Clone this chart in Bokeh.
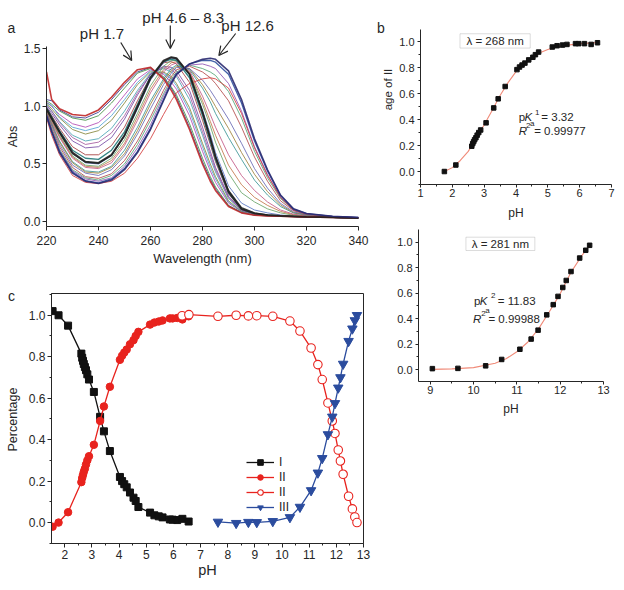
from bokeh.plotting import figure
from bokeh.layouts import row, column
from bokeh.models import (Range1d, Label, Arrow, OpenHead, Legend, LegendItem,
                          FixedTicker, PrintfTickFormatter, BoxAnnotation)
from bokeh.embed import file_html
from bokeh.resources import INLINE

FONT = "Liberation Sans"
INK = "#262626"

# ---------------- panel a : UV spectra ----------------
WAVELENGTH = [220, 222, 225, 230, 235, 240, 245, 250, 255, 260, 265, 268, 270,
              275, 280, 283, 285, 290, 295, 300, 305, 310, 315, 320, 330, 340]
ABS_PH_1_7 = [1.30, 1.06, 0.98, 0.93, 0.92, 0.97, 1.08, 1.21, 1.32, 1.34, 1.24, 1.14, 1.06, 0.80, 0.50, 0.35, 0.27, 0.13, 0.075, 0.055, 0.048, 0.045, 0.042, 0.04, 0.035, 0.03]
ABS_PH_1_9 = [1.06, 1.05, 0.97, 0.91, 0.90, 0.95, 1.06, 1.19, 1.30, 1.34, 1.25, 1.16, 1.08, 0.82, 0.52, 0.37, 0.285, 0.137, 0.077, 0.056, 0.048, 0.045, 0.042, 0.04, 0.035, 0.03]
ABS_PH_2_1 = [1.05, 1.02, 0.96, 0.90, 0.88, 0.92, 1.03, 1.16, 1.29, 1.33, 1.26, 1.17, 1.10, 0.85, 0.55, 0.39, 0.30, 0.14, 0.08, 0.056, 0.049, 0.045, 0.042, 0.04, 0.035, 0.03]
ABS_PH_2_6 = [1.04, 1.00, 0.93, 0.85, 0.82, 0.86, 0.96, 1.10, 1.24, 1.32, 1.28, 1.21, 1.15, 0.92, 0.61, 0.44, 0.34, 0.16, 0.084, 0.059, 0.05, 0.046, 0.042, 0.04, 0.035, 0.03]
ABS_PH_2_8 = [1.03, 1.01, 0.91, 0.82, 0.79, 0.82, 0.92, 1.06, 1.21, 1.31, 1.29, 1.24, 1.18, 0.96, 0.65, 0.47, 0.37, 0.17, 0.087, 0.06, 0.05, 0.046, 0.043, 0.04, 0.035, 0.03]
ABS_PH_2_9 = [1.03, 0.98, 0.90, 0.80, 0.76, 0.79, 0.88, 1.03, 1.19, 1.30, 1.30, 1.26, 1.20, 0.99, 0.68, 0.50, 0.39, 0.18, 0.089, 0.061, 0.051, 0.046, 0.043, 0.04, 0.035, 0.03]
ABS_PH_3_4 = [1.02, 0.96, 0.87, 0.75, 0.70, 0.72, 0.81, 0.96, 1.14, 1.29, 1.33, 1.30, 1.26, 1.06, 0.75, 0.55, 0.43, 0.20, 0.094, 0.063, 0.052, 0.047, 0.043, 0.04, 0.035, 0.03]
ABS_PH_3_6 = [1.01, 0.96, 0.86, 0.73, 0.67, 0.69, 0.77, 0.92, 1.12, 1.28, 1.34, 1.32, 1.28, 1.10, 0.78, 0.58, 0.45, 0.21, 0.097, 0.064, 0.052, 0.047, 0.043, 0.04, 0.035, 0.03]
ABS_PH_3_7 = [1.00, 0.94, 0.84, 0.70, 0.64, 0.65, 0.73, 0.89, 1.10, 1.28, 1.35, 1.34, 1.31, 1.14, 0.82, 0.61, 0.47, 0.22, 0.10, 0.066, 0.053, 0.047, 0.043, 0.04, 0.035, 0.03]
ABS_PH_4_3 = [0.99, 0.92, 0.81, 0.65, 0.58, 0.58, 0.66, 0.82, 1.05, 1.26, 1.38, 1.39, 1.37, 1.21, 0.88, 0.67, 0.52, 0.24, 0.105, 0.068, 0.054, 0.048, 0.044, 0.04, 0.035, 0.03]
ABS_PH_4_6 = [0.99, 0.91, 0.79, 0.62, 0.55, 0.54, 0.62, 0.78, 1.02, 1.26, 1.39, 1.41, 1.40, 1.25, 0.92, 0.69, 0.54, 0.25, 0.108, 0.069, 0.055, 0.048, 0.044, 0.04, 0.035, 0.03]
ABS_PH_6_0 = [0.98, 0.90, 0.78, 0.60, 0.52, 0.51, 0.58, 0.75, 1.00, 1.25, 1.40, 1.43, 1.42, 1.28, 0.95, 0.72, 0.56, 0.26, 0.11, 0.07, 0.055, 0.048, 0.044, 0.04, 0.035, 0.03]
ABS_PH_8_3 = [0.97, 0.89, 0.77, 0.59, 0.515, 0.505, 0.575, 0.745, 0.99, 1.24, 1.39, 1.425, 1.415, 1.28, 0.955, 0.73, 0.57, 0.27, 0.12, 0.075, 0.058, 0.05, 0.045, 0.041, 0.036, 0.031]
ABS_PH_10_3 = [0.98, 0.89, 0.77, 0.59, 0.51, 0.50, 0.57, 0.74, 0.98, 1.23, 1.38, 1.42, 1.41, 1.28, 0.97, 0.76, 0.60, 0.31, 0.16, 0.10, 0.075, 0.057, 0.047, 0.042, 0.036, 0.03]
ABS_PH_11_1 = [0.97, 0.88, 0.75, 0.57, 0.49, 0.48, 0.55, 0.71, 0.94, 1.18, 1.35, 1.40, 1.40, 1.29, 1.02, 0.83, 0.69, 0.42, 0.25, 0.17, 0.11, 0.075, 0.054, 0.045, 0.037, 0.031]
ABS_PH_11_3 = [0.97, 0.87, 0.74, 0.56, 0.48, 0.47, 0.53, 0.68, 0.91, 1.15, 1.32, 1.38, 1.39, 1.30, 1.05, 0.87, 0.75, 0.49, 0.32, 0.21, 0.14, 0.088, 0.059, 0.047, 0.037, 0.031]
ABS_PH_11_5 = [0.96, 0.86, 0.73, 0.55, 0.47, 0.46, 0.51, 0.66, 0.88, 1.12, 1.30, 1.36, 1.38, 1.31, 1.09, 0.93, 0.82, 0.58, 0.40, 0.27, 0.17, 0.10, 0.064, 0.049, 0.038, 0.032]
ABS_PH_11_8 = [0.95, 0.85, 0.70, 0.52, 0.44, 0.43, 0.48, 0.62, 0.82, 1.05, 1.24, 1.33, 1.36, 1.32, 1.16, 1.04, 0.94, 0.73, 0.54, 0.36, 0.23, 0.13, 0.074, 0.054, 0.04, 0.032]
ABS_PH_11_9 = [0.95, 0.84, 0.69, 0.51, 0.43, 0.42, 0.47, 0.59, 0.79, 1.02, 1.22, 1.31, 1.35, 1.33, 1.19, 1.08, 1.00, 0.81, 0.60, 0.41, 0.26, 0.143, 0.078, 0.056, 0.04, 0.033]
ABS_PH_12_0 = [0.94, 0.83, 0.67, 0.49, 0.42, 0.40, 0.45, 0.57, 0.76, 0.98, 1.19, 1.29, 1.34, 1.33, 1.23, 1.14, 1.07, 0.89, 0.68, 0.46, 0.29, 0.157, 0.084, 0.058, 0.041, 0.033]
ABS_PH_12_2 = [0.94, 0.81, 0.65, 0.47, 0.39, 0.375, 0.415, 0.53, 0.70, 0.91, 1.14, 1.26, 1.32, 1.35, 1.30, 1.25, 1.20, 1.05, 0.82, 0.56, 0.35, 0.18, 0.094, 0.062, 0.043, 0.034]
ABS_PH_12_3 = [0.93, 0.80, 0.63, 0.45, 0.38, 0.36, 0.40, 0.50, 0.67, 0.88, 1.11, 1.24, 1.30, 1.36, 1.33, 1.30, 1.27, 1.13, 0.90, 0.61, 0.38, 0.20, 0.099, 0.065, 0.043, 0.034]
ABS_PH_12_4 = [0.93, 0.79, 0.62, 0.44, 0.37, 0.35, 0.38, 0.48, 0.64, 0.84, 1.09, 1.22, 1.29, 1.36, 1.37, 1.35, 1.33, 1.20, 0.96, 0.65, 0.41, 0.21, 0.10, 0.067, 0.044, 0.035]
ABS_PH_12_5 = [0.92, 0.78, 0.61, 0.43, 0.355, 0.335, 0.37, 0.46, 0.61, 0.81, 1.06, 1.21, 1.28, 1.37, 1.40, 1.40, 1.385, 1.28, 1.03, 0.70, 0.44, 0.225, 0.108, 0.069, 0.045, 0.035]
ABS_PH_12_6 = [0.92, 0.78, 0.60, 0.42, 0.35, 0.33, 0.36, 0.45, 0.60, 0.80, 1.05, 1.20, 1.28, 1.37, 1.41, 1.42, 1.41, 1.31, 1.06, 0.72, 0.45, 0.23, 0.11, 0.07, 0.045, 0.035]
ABS_PH_12_7 = [0.90, 0.75, 0.58, 0.40, 0.34, 0.33, 0.35, 0.42, 0.55, 0.72, 0.93, 1.05, 1.12, 1.20, 1.24, 1.25, 1.24, 1.16, 0.94, 0.64, 0.40, 0.21, 0.10, 0.065, 0.042, 0.033]

SPECTRA = [ABS_PH_1_9, ABS_PH_2_1, ABS_PH_2_6, ABS_PH_2_8, ABS_PH_2_9, ABS_PH_3_4,
           ABS_PH_3_6, ABS_PH_3_7, ABS_PH_4_3, ABS_PH_10_3, ABS_PH_11_1, ABS_PH_11_3,
           ABS_PH_11_5, ABS_PH_11_8, ABS_PH_11_9, ABS_PH_12_0, ABS_PH_12_2, ABS_PH_12_3,
           ABS_PH_12_4, ABS_PH_12_7, ABS_PH_4_6, ABS_PH_8_3, ABS_PH_12_5,
           ABS_PH_1_7, ABS_PH_6_0, ABS_PH_12_6]
SPEC_COLORS = ["#2c2c86", "#3a8a3a", "#b040b0", "#4a9fd0", "#808030", "#40a0b0",
               "#a0509a", "#7040a0", "#a03030", "#5070c0", "#60a060", "#c07040",
               "#c05080", "#309090", "#9a7a30", "#6060b0", "#b04040", "#4aa070",
               "#8a4ab0", "#d03030", "#207878", "#303030", "#3050a0",
               "#c02828", "#202020", "#2a2a70"]
SPEC_WIDTHS = [0.9] * 20 + [1.3, 1.3, 1.3, 1.6, 1.8, 1.6]

A_XTICKS = [220, 240, 260, 280, 300, 320, 340]
A_YTICKS = [0.0, 0.5, 1.0, 1.5]

# ---------------- panel b : fractions ----------------
B1_PH = [1.75, 2.11, 2.61, 2.64, 2.67, 2.70, 2.74, 2.78, 2.83, 2.89, 3.06, 3.30, 3.44, 3.66,
         4.03, 4.11, 4.19, 4.28, 4.40, 4.53, 4.61, 4.71, 5.14, 5.29, 5.46, 5.60, 5.87, 5.97,
         6.15, 6.36, 6.56]
B1_FRAC = [0.00, 0.05, 0.195, 0.215, 0.23, 0.245, 0.26, 0.28, 0.30, 0.32, 0.375, 0.49, 0.56,
           0.655, 0.785, 0.805, 0.82, 0.835, 0.86, 0.88, 0.90, 0.92, 0.959, 0.969, 0.974,
           0.979, 0.985, 0.985, 0.985, 0.979, 0.992]
B1_FIT_PH = [1.75, 2.0, 2.25, 2.5, 2.75, 3.0, 3.25, 3.5, 3.75, 4.0, 4.25, 4.5, 4.75, 5.0,
             5.25, 5.5, 6.0, 6.55]
B1_FIT = [0.0, 0.03, 0.085, 0.155, 0.255, 0.36, 0.47, 0.585, 0.685, 0.77, 0.835, 0.88,
          0.915, 0.94, 0.958, 0.97, 0.985, 0.993]

B2_PH = [9.05, 9.64, 10.28, 10.65, 11.07, 11.33, 11.49, 11.69, 11.84, 11.95, 12.06, 12.14,
         12.25, 12.45, 12.59, 12.68]
B2_FRAC = [0.008, 0.01, 0.03, 0.08, 0.16, 0.24, 0.31, 0.43, 0.51, 0.575, 0.645, 0.70,
           0.77, 0.876, 0.937, 0.976]
B2_FIT_PH = [9.05, 9.5, 10.0, 10.5, 10.75, 11.0, 11.25, 11.5, 11.75, 12.0, 12.25, 12.5, 12.7]
B2_FIT = [0.002, 0.006, 0.016, 0.05, 0.085, 0.14, 0.215, 0.32, 0.455, 0.595, 0.765, 0.895, 0.985]

B_YTICKS = [0.0, 0.2, 0.4, 0.6, 0.8, 1.0]
B1_XTICKS = [1, 2, 3, 4, 5, 6, 7]
B2_XTICKS = [9, 10, 11, 12, 13]

# ---------------- panel c : speciation ----------------
C_PH_LOW = [1.55, 1.77, 2.12, 2.61, 2.64, 2.67, 2.70, 2.74, 2.78, 2.83, 2.89, 3.07, 3.30,
            3.44, 3.66, 4.03, 4.11, 4.19, 4.28, 4.40, 4.53, 4.61, 4.71, 5.14, 5.30, 5.46,
            5.60, 5.87, 5.97, 6.14, 6.33, 6.56]
C_I = [1.02, 1.00, 0.95, 0.815, 0.795, 0.78, 0.765, 0.75, 0.735, 0.715, 0.69, 0.63, 0.51,
       0.44, 0.345, 0.22, 0.20, 0.185, 0.17, 0.145, 0.12, 0.104, 0.075, 0.048, 0.035, 0.03,
       0.025, 0.015, 0.014, 0.012, 0.018, 0.005]
C_II = [-0.02, 0.00, 0.05, 0.195, 0.215, 0.23, 0.245, 0.26, 0.28, 0.30, 0.32, 0.375, 0.49,
        0.56, 0.655, 0.785, 0.805, 0.82, 0.835, 0.86, 0.88, 0.90, 0.92, 0.955, 0.965, 0.97,
        0.975, 0.985, 0.985, 0.987, 0.98, 0.995]
C_PH_HIGH = [6.32, 6.57, 7.64, 8.31, 8.76, 9.07, 9.66, 10.29, 10.66, 11.07, 11.32, 11.48,
             11.69, 11.85, 11.95, 12.07, 12.15, 12.25, 12.45, 12.59, 12.68, 12.76]
C_II_HIGH = [0.998, 1.003, 0.995, 1.0, 0.997, 0.998, 0.995, 0.972, 0.924, 0.842, 0.762,
             0.69, 0.577, 0.49, 0.43, 0.35, 0.297, 0.233, 0.127, 0.066, 0.027, 0.0]
C_PH_III = [7.64, 8.31, 8.76, 9.07, 9.66, 10.29, 10.66, 11.07, 11.32, 11.48, 11.69, 11.85,
            11.95, 12.07, 12.15, 12.25, 12.45, 12.59, 12.68, 12.76]
C_III = [0.003, -0.003, 0.002, 0.001, 0.006, 0.025, 0.075, 0.155, 0.24, 0.31, 0.425, 0.51,
         0.575, 0.65, 0.70, 0.765, 0.875, 0.935, 0.975, 1.0]
C_XTICKS = [2, 3, 4, 5, 6, 7, 8, 9, 10, 11, 12, 13]
C_YTICKS = [0.0, 0.2, 0.4, 0.6, 0.8, 1.0]
C_LABELS = ["I", "II", "II", "III"]


# ---------------- helpers ----------------
def mk(width, height, xr, yr, ml, mr, mt, mb, outline=None):
    p = figure(width=width, height=height, x_range=Range1d(*xr), y_range=Range1d(*yr),
               output_backend="svg", toolbar_location=None, title=None,
               min_border_left=ml, min_border_right=mr, min_border_top=mt,
               min_border_bottom=mb, outline_line_color=outline,
               background_fill_color="white", border_fill_color="white")
    p.xgrid.visible = False
    p.ygrid.visible = False
    return p


def strip(width, height, xr, yr):
    p = figure(width=width, height=height, x_range=Range1d(*xr), y_range=Range1d(*yr),
               output_backend="svg", toolbar_location=None, title=None,
               x_axis_type=None, y_axis_type=None, min_border=0,
               min_border_left=0, min_border_right=0, min_border_top=0,
               min_border_bottom=0, outline_line_color=None,
               background_fill_color="white", border_fill_color="white")
    return p


def style(p, xt, yt, xm, ym, fs, xfmt, yfmt, xstand=4, ystand=3, tick=4):
    p.xaxis.ticker = FixedTicker(ticks=xt, minor_ticks=xm)
    p.yaxis.ticker = FixedTicker(ticks=yt, minor_ticks=ym)
    p.xaxis.formatter = PrintfTickFormatter(format=xfmt)
    p.yaxis.formatter = PrintfTickFormatter(format=yfmt)
    for ax in p.axis:
        ax.axis_line_color = INK
        ax.axis_line_width = 1
        ax.major_tick_line_color = INK
        ax.minor_tick_line_color = INK
        ax.major_tick_in = 0
        ax.major_tick_out = tick
        ax.minor_tick_in = 0
        ax.minor_tick_out = 2
        ax.major_label_text_font = FONT
        ax.major_label_text_font_size = fs
        ax.major_label_text_color = INK
        ax.axis_label_text_font = FONT
        ax.axis_label_text_font_style = "normal"
        ax.axis_label_text_color = INK
    p.xaxis.major_label_standoff = xstand
    p.yaxis.major_label_standoff = ystand


def mapper(left, top, fw, fh, xr, yr):
    def m(X, Y):
        x = xr[0] + (X - left) * (xr[1] - xr[0]) / fw
        y = yr[1] - (Y - top) * (yr[1] - yr[0]) / fh
        return x, y
    return m


def ident(X, Y):
    return X, Y


def lab(p, m, X, Y, text, size, align="center", baseline="middle", angle=0,
        fstyle="normal"):
    x, y = m(X, Y)
    p.add_layout(Label(x=x, y=y, text=text, text_font=FONT, text_font_size=f"{size}px",
                       text_align=align, text_baseline=baseline, angle=angle,
                       angle_units="deg", text_font_style=fstyle, text_color=INK))


def arrow(p, m, X0, Y0, X1, Y1):
    x0, y0 = m(X0, Y0)
    x1, y1 = m(X1, Y1)
    p.add_layout(Arrow(end=OpenHead(size=9, line_width=1.2, line_color=INK),
                       x_start=x0, y_start=y0, x_end=x1, y_end=y1,
                       line_width=1.2, line_color=INK))


def boxed(p, m, X0, Y0, X1, Y1):
    l, t = m(X0, Y0)
    r, b = m(X1, Y1)
    p.add_layout(BoxAnnotation(left=l, right=r, top=t, bottom=b, fill_color="white",
                               fill_alpha=1.0, line_color="#8a8a8a", line_width=1))


# Page layout (no body margin), every plot nested so frames are not aligned:
#   [stripA 0-20 | panel a 20-370]        [stripB1 375-396 | panel b1 396-624]
#   [stripC 0-25 | panel c 25-375]        [stripB2 375-394 | panel b2 394-616]

# ---------------- panel a ----------------
A_XR = (220, 340)
A_YR = (-0.0435, 1.852)
pa = mk(350, 270, A_XR, A_YR, 23, 12, 8, 44)
style(pa, A_XTICKS, A_YTICKS, [], [], "12px", "%d", "%.1f", xstand=5, ystand=2)
pa.yaxis.bounds = (-0.0435, 1.52)
pa.xaxis.axis_label = "Wavelength (nm)"
pa.xaxis.axis_label_text_font_size = "13px"
pa.xaxis.axis_label_standoff = 3
for spec, col, w in zip(SPECTRA, SPEC_COLORS, SPEC_WIDTHS):
    pa.line(WAVELENGTH, spec, line_color=col, line_width=w, line_alpha=0.9)
ma = mapper(43, 8, 315, 218, A_XR, A_YR)
lab(pa, ma, 99, 33, "pH 1.7", 15)
lab(pa, ma, 181, 17, "pH 4.6 \u2013 8.3", 15)
lab(pa, ma, 246, 25, "pH 12.6", 15)
arrow(pa, ma, 118, 42, 129, 60)
arrow(pa, ma, 168, 25, 168, 48)
arrow(pa, ma, 234, 33, 217, 55)

# ---------------- panel c ----------------
C_XR = (1.51, 13.0)
C_YR = (-0.101, 1.105)
pc = mk(350, 317, C_XR, C_YR, 23, 12, 23, 44, outline=INK)
style(pc, C_XTICKS, C_YTICKS, [x + 0.5 for x in range(2, 13)],
      [-0.1, 0.1, 0.3, 0.5, 0.7, 0.9, 1.1], "12px", "%d", "%.1f", xstand=2, ystand=2)
pc.xaxis.axis_label = "pH"
pc.xaxis.axis_label_text_font_size = "14.5px"
pc.xaxis.axis_label_standoff = 0
BLACK, RED, BLUE = "#111111", "#e8231e", "#2b4c9e"
l1 = pc.line(C_PH_LOW, C_I, line_color=BLACK, line_width=1.3)
m1 = pc.scatter(C_PH_LOW, C_I, marker="square", size=7, color=BLACK)
l2 = pc.line(C_PH_LOW, C_II, line_color=RED, line_width=1.3)
m2 = pc.scatter(C_PH_LOW, C_II, marker="circle", size=7.5, color=RED)
l3 = pc.line(C_PH_HIGH, C_II_HIGH, line_color=RED, line_width=1.3)
m3 = pc.scatter(C_PH_HIGH, C_II_HIGH, marker="circle", size=8.5, line_color=RED,
                fill_color="white", line_width=1.1)
l4 = pc.line(C_PH_III, C_III, line_color=BLUE, line_width=1.3)
m4 = pc.scatter(C_PH_III, C_III, marker="inverted_triangle", size=9.5, color=BLUE)
legend = Legend(items=[LegendItem(label=C_LABELS[0], renderers=[l1, m1]),
                       LegendItem(label=C_LABELS[1], renderers=[l2, m2]),
                       LegendItem(label=C_LABELS[2], renderers=[l3, m3]),
                       LegendItem(label=C_LABELS[3], renderers=[l4, m4])],
                location=(195, 29), padding=0, margin=0, spacing=1,
                glyph_width=28, glyph_height=14, label_height=14, label_standoff=5,
                label_text_font=FONT, label_text_font_size="12px",
                label_text_color=INK, border_line_color=None,
                background_fill_alpha=0)
pc.add_layout(legend)

# ---------------- panel b (top) ----------------
B1_XR = (1.0, 7.0)
B1_YR = (-0.1, 1.094)
pb1 = mk(228, 222, B1_XR, B1_YR, 23, 13, 29, 37)
style(pb1, B1_XTICKS, B_YTICKS, [1.5, 2.5, 3.5, 4.5, 5.5, 6.5],
      [-0.1, 0.1, 0.3, 0.5, 0.7, 0.9], "11px", "%d", "%.1f", xstand=1, ystand=3, tick=3)
pb1.xaxis.axis_label = "pH"
pb1.xaxis.axis_label_text_font_size = "12px"
pb1.xaxis.axis_label_standoff = 6
FIT = "#f08a78"
pb1.line(B1_FIT_PH, B1_FIT, line_color=FIT, line_width=1.1)
pb1.scatter(B1_PH, B1_FRAC, marker="square", size=4.5, color="#111111")
mb1 = mapper(419, 29, 192, 156, B1_XR, B1_YR)
boxed(pb1, mb1, 458.7, 33.3, 529.3, 47.7)
lab(pb1, mb1, 494, 40.8, "\u03bb = 268 nm", 11.5)
lab(pb1, mb1, 517.7, 117.3, "p", 11.5, align="left", baseline="alphabetic")
lab(pb1, mb1, 523.5, 117.3, "K", 11.5, align="left", baseline="alphabetic", fstyle="italic")
lab(pb1, mb1, 534, 112.5, "1", 8, align="left", baseline="alphabetic")
lab(pb1, mb1, 540.5, 117.3, "= 3.32", 11.5, align="left", baseline="alphabetic")
lab(pb1, mb1, 517.7, 131, "R", 11.5, align="left", baseline="alphabetic", fstyle="italic")
lab(pb1, mb1, 525, 126, "2", 8, align="left", baseline="alphabetic")
lab(pb1, mb1, 529, 123.5, "a", 8, align="left", baseline="alphabetic")
lab(pb1, mb1, 533.3, 131, "= 0.99977", 11.5, align="left", baseline="alphabetic")

# ---------------- panel b (bottom) ----------------
B2_XR = (8.73, 13.0)
B2_YR = (-0.093, 1.10)
pb2 = mk(222, 199, B2_XR, B2_YR, 23, 13, 7, 40)
style(pb2, B2_XTICKS, B_YTICKS, [9.5, 10.5, 11.5, 12.5],
      [-0.1, 0.1, 0.3, 0.5, 0.7, 0.9], "11px", "%d", "%.1f", xstand=1, ystand=3, tick=3)
pb2.xaxis.axis_label = "pH"
pb2.xaxis.axis_label_text_font_size = "12px"
pb2.xaxis.axis_label_standoff = 5
pb2.line(B2_FIT_PH, B2_FIT, line_color=FIT, line_width=1.1)
pb2.scatter(B2_PH, B2_FRAC, marker="square", size=4.5, color="#111111")
mb2 = mapper(417, 229, 186, 152, B2_XR, B2_YR)
boxed(pb2, mb2, 464.7, 236.7, 534, 250)
lab(pb2, mb2, 499.3, 243.6, "\u03bb = 281 nm", 11.5)
lab(pb2, mb2, 472.7, 300.7, "p", 11.5, align="left", baseline="alphabetic")
lab(pb2, mb2, 478.5, 300.7, "K", 11.5, align="left", baseline="alphabetic", fstyle="italic")
lab(pb2, mb2, 490, 294.5, "2", 8, align="left", baseline="alphabetic")
lab(pb2, mb2, 496.7, 300.7, "= 11.83", 11.5, align="left", baseline="alphabetic")
lab(pb2, mb2, 471.7, 318.3, "R", 11.5, align="left", baseline="alphabetic", fstyle="italic")
lab(pb2, mb2, 480, 312.5, "2", 8, align="left", baseline="alphabetic")
lab(pb2, mb2, 484, 309.5, "a", 8, align="left", baseline="alphabetic")
lab(pb2, mb2, 487.3, 318.3, "= 0.99988", 11.5, align="left", baseline="alphabetic")

# ---------------- text strips (page pixel coordinates) ----------------
sA = strip(20, 270, (0, 20), (270, 0))
lab(sA, ident, 7, 27, "a", 14, align="left")
lab(sA, ident, 12.3, 136, "Abs", 12.5, angle=90)

sC = strip(25, 317, (0, 25), (587, 270))
lab(sC, ident, 7.5, 295.5, "c", 14, align="left")
lab(sC, ident, 12.5, 419, "Percentage", 12.5, angle=90)

sB1 = strip(21, 222, (375, 396), (222, 0))
lab(sB1, ident, 376.5, 27, "b", 14, align="left")
lab(sB1, ident, 387.5, 89, "age of II", 11.5, angle=90)

sB2 = strip(19, 199, (375, 394), (421, 222))

col1 = column(row(column(sA), pa), row(column(sC), pc))
col2 = column(row(column(sB1), pb1), row(column(sB2), pb2))
layout = row(col1, col2)
open("out.html", "w").write(file_html(layout, INLINE))
